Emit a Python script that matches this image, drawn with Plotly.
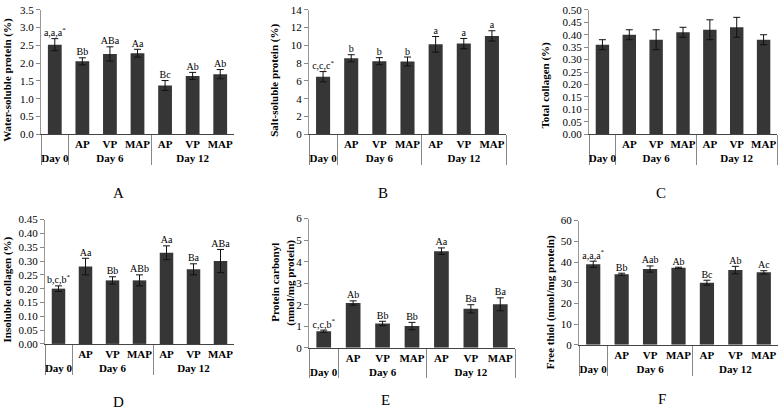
import plotly.graph_objects as go

W, H = 778, 413

days = ["Day 0", "Day 6", "Day 6", "Day 6", "Day 12", "Day 12", "Day 12"]
packs = [" ", "AP", "VP", "MAP", "AP", "VP", "MAP"]

ws_mean = [2.52, 2.05, 2.26, 2.28, 1.37, 1.64, 1.69]
ws_err = [0.17, 0.10, 0.20, 0.11, 0.14, 0.10, 0.13]
ws_lab = ["a,a,a<sup>*</sup>", "Bb", "ABa", "Aa", "Bc", "Ab", "Ab"]

ss_mean = [6.47, 8.55, 8.22, 8.19, 10.12, 10.20, 11.07]
ss_err = [0.58, 0.40, 0.40, 0.50, 0.88, 0.58, 0.58]
ss_lab = ["c,c,c<sup>*</sup>", "b", "b", "b", "a", "a", "a"]

tc_mean = [0.36, 0.40, 0.38, 0.41, 0.42, 0.43, 0.38]
tc_err = [0.02, 0.02, 0.04, 0.02, 0.04, 0.04, 0.02]
tc_lab = None

ic_mean = [0.20, 0.28, 0.23, 0.23, 0.33, 0.27, 0.30]
ic_err = [0.01, 0.03, 0.013, 0.02, 0.025, 0.02, 0.042]
ic_lab = ["b,c,b<sup>*</sup>", "Aa", "Bb", "ABb", "Aa", "Ba", "ABa"]

pc_mean = [0.77, 2.08, 1.13, 1.01, 4.49, 1.81, 2.02]
pc_err = [0.05, 0.10, 0.10, 0.17, 0.15, 0.19, 0.30]
pc_lab = ["c,c,b<sup>*</sup>", "Ab", "Bb", "Bb", "Aa", "Ba", "Ba"]

ft_mean = [38.9, 34.1, 36.6, 37.2, 30.0, 36.1, 35.0]
ft_err = [1.5, 0.5, 1.5, 0.3, 1.2, 1.8, 0.8]
ft_lab = ["a,a,a<sup>*</sup>", "Bb", "Aab", "Ab", "Bc", "Ab", "Ac"]

panels = [
    dict(mean=ws_mean, err=ws_err, lab=ws_lab, rng=[0, 3.5], dtick=0.5, fmt=".1f",
         titles=[("Water-soluble protein (%)", 8, 76)],
         box=(41, 234, 4, 132), letter="A", lx=118, ly=193),
    dict(mean=ss_mean, err=ss_err, lab=ss_lab, rng=[0, 14], dtick=2, fmt="d",
         titles=[("Salt-soluble protein (%)", 275, 77)],
         box=(309, 506, 4, 132), letter="B", lx=383, ly=193),
    dict(mean=tc_mean, err=tc_err, lab=tc_lab, rng=[0, 0.5], dtick=0.05, fmt=".2f",
         titles=[("Total collagen (%)", 546, 82)],
         box=(589, 777, 4, 132), letter="C", lx=661, ly=193),
    dict(mean=ic_mean, err=ic_err, lab=ic_lab, rng=[0, 0.45], dtick=0.05, fmt=".2f",
         titles=[("Insoluble collagen (%)", 8, 292)],
         box=(45, 234, 220, 348), letter="D", lx=118, ly=408),
    dict(mean=pc_mean, err=pc_err, lab=pc_lab, rng=[0, 6], dtick=1, fmt="d",
         titles=[("Protein carbonyl", 275, 285), ("(nmol/mg protein)", 291, 285)],
         box=(309, 515, 219, 352), letter="E", lx=385, ly=406),
    dict(mean=ft_mean, err=ft_err, lab=ft_lab, rng=[0, 60], dtick=10, fmt="d",
         titles=[("Free thiol (nmol/mg protein)", 550, 305)],
         box=(579, 778, 221, 349), letter="F", lx=662, ly=405),
]

SERIF = "Liberation Serif"
fig = go.Figure()
annotations = []
layout = {}

for i, p in enumerate(panels, start=1):
    sx = "" if i == 1 else str(i)
    xa, ya = "x" + sx, "y" + sx
    x0, x1, y0, y1 = p["box"]
    xcat = [days, packs]
    fig.add_trace(go.Bar(
        x=xcat, y=p["mean"], xaxis=xa, yaxis=ya,
        marker=dict(color="#363636", line=dict(width=0)),
        error_y=dict(type="data", array=p["err"], color="#111111", thickness=1, width=3.5),
        showlegend=False, hoverinfo="skip",
    ))
    if p["lab"]:
        tops = [m + e for m, e in zip(p["mean"], p["err"])]
        fig.add_trace(go.Scatter(
            x=xcat, y=tops, xaxis=xa, yaxis=ya, mode="text", text=p["lab"],
            textposition="top center", cliponaxis=False,
            textfont=dict(family=SERIF, size=10, color="#000000"),
            showlegend=False, hoverinfo="skip",
        ))
    layout["xaxis" + sx] = dict(
        type="multicategory", domain=[x0 / W, x1 / W], anchor=ya,
        showline=True, linecolor="#444444", linewidth=1, ticks="", tickangle=0,
        showdividers=True, dividercolor="#888888", dividerwidth=1,
        tickfont=dict(family=SERIF, size=11, color="#000000", weight="bold"),
        showgrid=False, zeroline=False,
    )
    layout["yaxis" + sx] = dict(
        domain=[1 - y1 / H, 1 - y0 / H], anchor=xa, range=p["rng"], dtick=p["dtick"],
        tick0=0, tickformat=p["fmt"], ticks="outside", ticklen=4, tickcolor="#888888",
        showline=True, linecolor="#999999", linewidth=1, showgrid=False, zeroline=False,
        tickfont=dict(family=SERIF, size=11, color="#000000"),
    )
    for t, tx, ty in p["titles"]:
        annotations.append(dict(
            text=t, xref="paper", yref="paper", x=tx / W, y=1 - ty / H,
            xanchor="center", yanchor="middle", textangle=-90, showarrow=False,
            font=dict(family=SERIF, size=11, color="#000000", weight="bold"),
        ))
    annotations.append(dict(
        text=p["letter"], xref="paper", yref="paper", x=p["lx"] / W, y=1 - p["ly"] / H,
        xanchor="center", yanchor="middle", showarrow=False,
        font=dict(family=SERIF, size=15, color="#000000"),
    ))

fig.update_layout(
    width=W, height=H, margin=dict(l=0, r=0, t=0, b=0),
    paper_bgcolor="white", plot_bgcolor="white",
    bargap=0.5, annotations=annotations, **layout,
)

fig.write_html("out.html")
